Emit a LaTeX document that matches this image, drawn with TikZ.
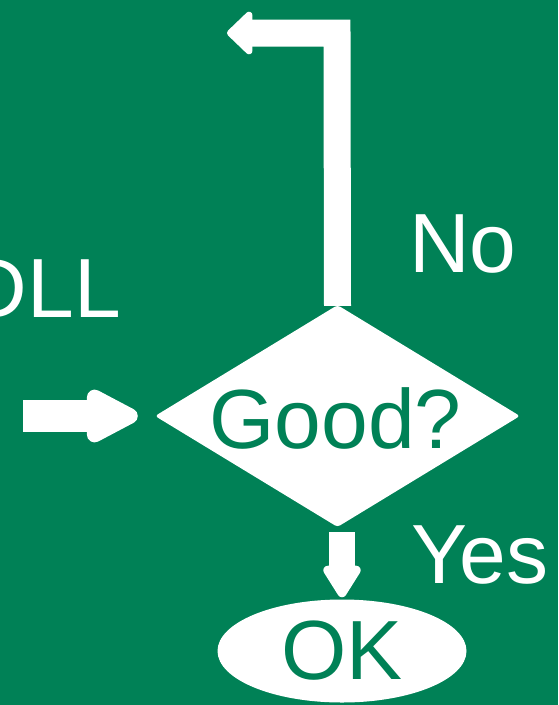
\documentclass[tikz,border=0pt]{standalone}
\usepackage{fontspec}
\setmainfont{Liberation Sans}
\usetikzlibrary{shapes.geometric,arrows.meta,calc}
\definecolor{bggreen}{RGB}{0,129,86}
\begin{document}
\begin{tikzpicture}[x=1pt,y=-1pt,
  bigtext/.style={font=\fontsize{84}{90}\selectfont, inner sep=0pt},
  wlabel/.style={bigtext, text=white},
  glabel/.style={bigtext, text=bggreen},
  flowarrow/.style={draw=white, line join=miter, line cap=butt}
]
\fill[bggreen] (0,0) rectangle (558,705);
\useasboundingbox (0,0) rectangle (558,705);

% decision diamond
\node[diamond, fill=white, minimum width=365pt, minimum height=222pt,
      inner sep=0pt, rounded corners=3pt] (dec) at (337.5,416) {};
\node[glabel] (good) at ($(dec.center)+(-2,2)$) {Good?};

% terminal ellipse
\node[ellipse, fill=white, minimum width=249pt, minimum height=103pt,
      inner sep=0pt] (ok) at (342,651) {};
\node[glabel] (oktext) at (ok.center) {OK};

% loop-back arrow (No)
\coordinate (loopcorner) at (337,33);
\coordinate (loopend) at (227,33);
\draw[flowarrow, line width=27pt, -{Triangle[length=27pt,width=50pt,round]}]
  ($(dec.north)+(0,1)$) -- (loopcorner) -- (loopend);

% incoming arrow
\coordinate (instart) at (23,416);
\draw[flowarrow, line width=32pt, -{Triangle[length=61pt,width=58pt,round]}]
  (instart) -- ($(dec.west)+(-17,0)$);

% down arrow (Yes)
\draw[flowarrow, line width=26pt, -{Triangle[length=36pt,width=42pt,round]}]
  ($(ok.north)+(0,-67)$) -- ($(ok.north)+(0,-2)$);

% labels
\node[wlabel, anchor=base west] (nolabel) at (409,272) {No};
\node[wlabel, anchor=base west] (yeslabel) at (411,583) {Yes};
\node[wlabel, anchor=base east] (dlllabel) at (121,317) {DLL};
\end{tikzpicture}
\end{document}
